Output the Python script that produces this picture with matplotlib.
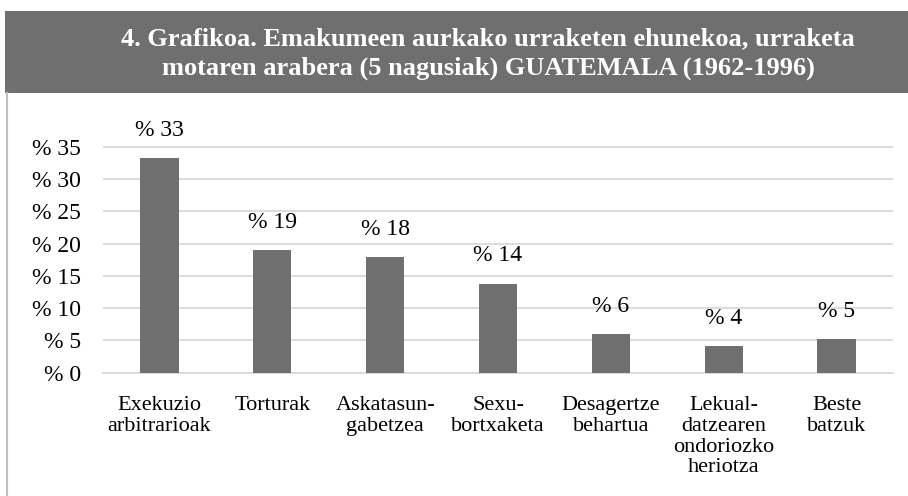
import matplotlib.pyplot as plt
from matplotlib.patches import Rectangle
from matplotlib.lines import Line2D

categories = ['Exekuzio\narbitrarioak', 'Torturak', 'Askatasun-\ngabetzea', 'Sexu-\nbortxaketa',
              'Desagertze\nbehartua', 'Lekual-\ndatzearen\nondoriozko\nheriotza', 'Beste\nbatzuk']
values = [33.2, 19.0, 17.9, 13.8, 6.0, 4.1, 5.2]
bar_labels = ['% 33', '% 19', '% 18', '% 14', '% 6', '% 4', '% 5']
yticks = [0, 5, 10, 15, 20, 25, 30, 35]

plt.rcParams['font.family'] = ['Liberation Serif', 'DejaVu Serif']

fig = plt.figure(figsize=(9.08, 4.96), dpi=100)
W, H = 908, 496

# title banner and frame lines
fig.patches.append(Rectangle((5 / W, 1 - 93 / H), 1, 82 / H, transform=fig.transFigure,
                             facecolor='#6f6f6f', edgecolor='none'))
fig.lines.append(Line2D([7 / W, 7 / W], [0, 1 - 93 / H], transform=fig.transFigure,
                        color='#bfbfbf', linewidth=1.5))
fig.text(488 / W, 1 - 54 / H,
         '4. Grafikoa. Emakumeen aurkako urraketen ehunekoa, urraketa\nmotaren arabera (5 nagusiak) GUATEMALA (1962-1996)',
         ha='center', va='center', color='white', fontsize=19, fontweight='bold', linespacing=1.35)

ax = fig.add_axes([103 / W, 1 - 372.7 / H, 790 / W, 226 / H * 40 / 35])
x = range(len(categories))
ax.bar(x, values, width=0.34, color='#6f6f6f', zorder=3)
for xi, v, lab in zip(x, values, bar_labels):
    ax.annotate(lab, (xi, v), xytext=(0, 12.5), textcoords='offset points',
                ha='center', va='bottom', fontsize=17)

ax.set_xlim(-0.5, len(categories) - 0.5)
ax.set_ylim(0, 40)
ax.set_yticks(yticks)
ax.set_yticklabels(['% ' + str(t) for t in yticks], fontsize=17)
ax.set_xticks(list(x))
ax.set_xticklabels(categories, fontsize=16, va='top', linespacing=1.14)
ax.tick_params(length=0)
ax.tick_params(axis='x', pad=16.5)
ax.tick_params(axis='y', pad=16)
ax.grid(axis='y', color='#d9d9d9', linewidth=1.3, zorder=0)
for s in ['top', 'right', 'left']:
    ax.spines[s].set_visible(False)
ax.spines['bottom'].set_color('#d9d9d9')
ax.spines['bottom'].set_linewidth(1.3)
ax.set_facecolor('none')

fig.savefig('out.png', dpi=100)
